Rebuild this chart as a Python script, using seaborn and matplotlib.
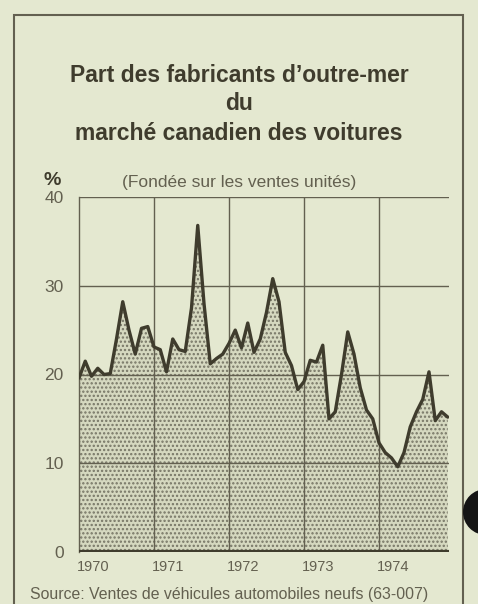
import seaborn as sns, matplotlib.pyplot as plt, numpy as np
import pandas as pd
from matplotlib.patches import Rectangle, Ellipse

# monthly share (%) of overseas makers, Jan 1970 - Dec 1974
years = ["1970", "1971", "1972", "1973", "1974"]
share_1970 = [19.6, 21.5, 19.8, 20.7, 20.0, 20.1, 24.0, 28.2, 25.0, 22.3, 25.2, 25.4]
share_1971 = [23.1, 22.8, 20.3, 24.0, 22.8, 22.6, 27.5, 36.8, 28.0, 21.2, 21.8, 22.3]
share_1972 = [23.5, 25.0, 23.0, 25.8, 22.5, 24.0, 27.0, 30.8, 28.2, 22.5, 21.0, 18.3]
share_1973 = [19.2, 21.6, 21.4, 23.3, 15.0, 15.8, 20.0, 24.8, 22.3, 18.5, 16.0, 15.0]
share_1974 = [12.3, 11.2, 10.6, 9.6, 11.2, 14.1, 15.8, 17.2, 20.3, 14.8, 15.8, 15.2]
y_ticks = [0, 10, 20, 30, 40]

share = share_1970 + share_1971 + share_1972 + share_1973 + share_1974
df = pd.DataFrame({"month": np.arange(len(share)), "share": share})

bg = "#e4e8d0"
ink = "#3f3c2d"
grey = "#636050"

sns.set_style("white")
plt.rcParams["font.family"] = ["Liberation Sans", "DejaVu Sans"]
plt.rcParams["hatch.color"] = "#767565"
plt.rcParams["hatch.linewidth"] = 1.1

fig = plt.figure(figsize=(4.78, 6.04), dpi=100, facecolor=bg)
ax = fig.add_axes([79/478, 52/604, 370/478, 355/604])
ax.set_facecolor(bg)

# stippled area under the line
ax.fill_between(df["month"], 0, df["share"], facecolor="#d5d8bf",
                hatch="....", edgecolor="#767565", linewidth=0, zorder=1)
sns.lineplot(data=df, x="month", y="share", ax=ax, color=ink, linewidth=2.4, zorder=4)

ax.set_xlim(0, 59.2)
ax.set_ylim(0, 40)
for v in y_ticks[1:]:
    ax.axhline(v, color=grey, linewidth=1.0, zorder=3)
for k in range(1, len(years)):
    ax.axvline(12 * k, color=grey, linewidth=1.0, zorder=3)
ax.axhline(0, color=ink, linewidth=3.0, zorder=5)

for s in ["top", "right", "bottom"]:
    ax.spines[s].set_visible(False)
ax.spines["left"].set_color(grey)
ax.spines["left"].set_linewidth(1.0)

ax.set_xticks([])
ax.set_yticks(y_ticks)
ax.set_yticklabels([str(v) for v in y_ticks], fontsize=12.5, color=grey)
ax.tick_params(axis="y", length=0, pad=11)
ax.set_xlabel("")
ax.set_ylabel("")

for k, yr in enumerate(years):
    ax.text(12 * k - 0.3, -0.9, yr, ha="left", va="top", fontsize=10.5, color=grey)

# titles and notes
for txt, ypix in [("Part des fabricants d’outre-mer", 75), ("du", 104),
                  ("marché canadien des voitures", 134)]:
    fig.text(0.5, 1 - ypix/604, txt, ha="center", va="center",
             fontsize=16.5, fontweight="bold", color=ink)
fig.text(239/478, 1 - 182/604, "(Fondée sur les ventes unités)", ha="center", va="center",
         fontsize=12.5, color=grey)
fig.text(52/478, 1 - 181/604, "%", ha="center", va="center",
         fontsize=14, fontweight="bold", color=ink)
fig.text(30/478, 1 - 595/604, "Source: Ventes de véhicules automobiles neufs (63-007)",
         ha="left", va="center", fontsize=11.4, color=grey)

# page frame and binding hole from the scan
fig.patches.append(Rectangle((14/478, -0.05), 449/478, 1.05 - 15/604, transform=fig.transFigure,
                             fill=False, edgecolor=grey, linewidth=1.5))
fig.patches.append(Ellipse((486/478, 1 - 512/604), 46/478, 46/604, transform=fig.transFigure,
                           facecolor="#151515", edgecolor="none"))

plt.savefig("out.png", dpi=100, facecolor=bg)
